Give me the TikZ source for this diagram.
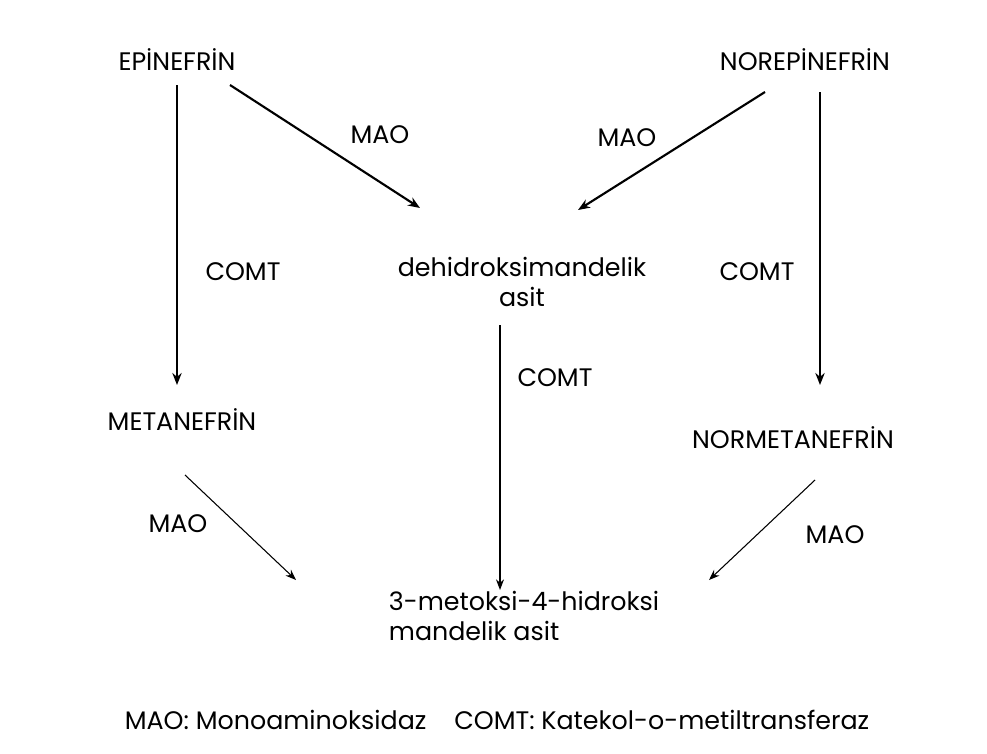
\documentclass[tikz,border=0pt]{standalone}
\usepackage{fontspec}
\setmainfont{Poppins}
\usetikzlibrary{arrows.meta,positioning}
\begin{document}
\begin{tikzpicture}[
                x=0.75pt,y=-0.75pt,
                metabName/.style={font=\fontsize{19}{22}\selectfont,inner sep=2pt,align=center},
                metabEnzyme/.style={font=\fontsize{19}{22}\selectfont,inner sep=1pt},
                metabThick/.style={draw=black,line width=1.6pt,-{Stealth[length=9pt,width=7pt]}},
                metabThin/.style={draw=black,line width=0.8pt,-{Stealth[length=8pt,width=6pt]}}]
                \useasboundingbox (0,0) rectangle (987,753);
                % metabolitler
                \node[metabName] (epi) at (177,60) {EPİNEFRİN};
                \node[metabName] (norepi) at (805,60) {NOREPİNEFRİN};
                \node[metabName,align=center] (dhma) at (522,282) {dehidroksimandelik\\asit};
                \node[metabName] (meta) at (182,420) {METANEFRİN};
                \node[metabName] (normeta) at (793,438) {NORMETANEFRİN};
                \node[metabName,align=left,anchor=west] (vma) at (386,616) {3-metoksi-4-hidroksi\\mandelik asit};
                % enzimler
                \node[metabEnzyme] (eMaoA) at (380,135) {MAO};
                \node[metabEnzyme] (eMaoB) at (627,138) {MAO};
                \node[metabEnzyme] (eComtA) at (243,272) {COMT};
                \node[metabEnzyme] (eComtB) at (757,272) {COMT};
                \node[metabEnzyme] (eComtC) at (555,378) {COMT};
                \node[metabEnzyme] (eMaoC) at (178,524) {MAO};
                \node[metabEnzyme] (eMaoD) at (835,535) {MAO};
                % ok uclari
                \coordinate (epiD) at (177,85);
                \coordinate (metaU) at (177,385);
                \coordinate (norepiD) at (820,92);
                \coordinate (normetaU) at (820,385);
                \coordinate (epiR) at (230,85);
                \coordinate (dhmaL) at (420,208);
                \coordinate (norepiL) at (765,92);
                \coordinate (dhmaR) at (578,210);
                \coordinate (dhmaD) at (500,325);
                \coordinate (vmaU) at (500,590);
                \coordinate (metaD) at (185,475);
                \coordinate (vmaL) at (296,580);
                \coordinate (normetaD) at (815,480);
                \coordinate (vmaR) at (709,580);
                % oklar
                \draw[metabThick] (epiD) -- (metaU);
                \draw[metabThick] (norepiD) -- (normetaU);
                \draw[metabThick] (epiR) -- (dhmaL);
                \draw[metabThick] (norepiL) -- (dhmaR);
                \draw[metabThin] (dhmaD) -- (vmaU);
                \draw[metabThin] (metaD) -- (vmaL);
                \draw[metabThin] (normetaD) -- (vmaR);
                % aciklama
                \node[metabName] (legend) at (497,720) {MAO: Monoaminoksidaz\hspace{1.1em}COMT: Katekol-o-metiltransferaz};
            \end{tikzpicture}
\end{document}
